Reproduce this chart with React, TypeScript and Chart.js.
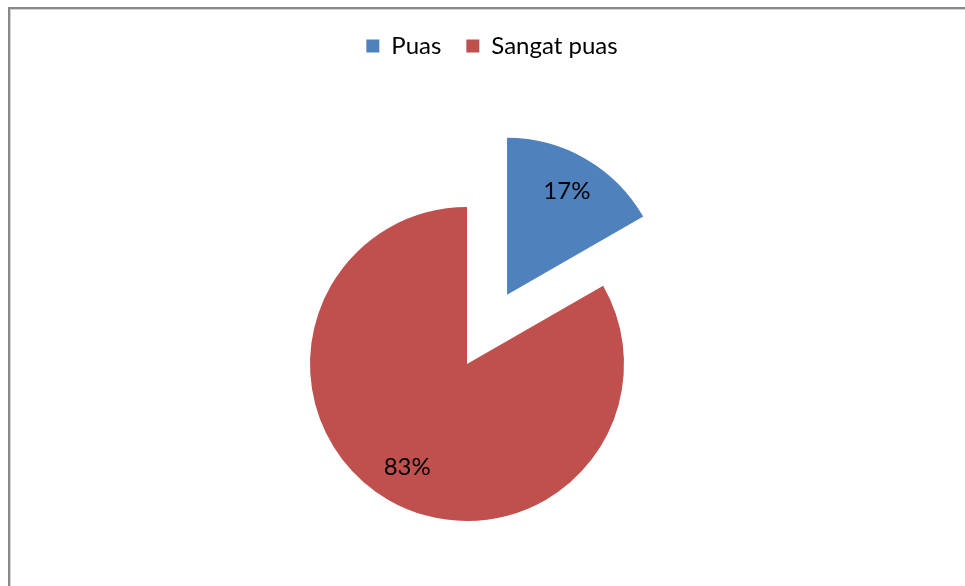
import React, { useEffect, useRef } from 'react';
import { Chart, registerables } from 'chart.js';

Chart.register(...registerables);

// ---- data ----
const categories = ['Puas', 'Sangat puas'];
const values = [16.7, 83.3];
const sliceColors = ['#4F81BD', '#C0504D'];

// ---- styling ----
const FONT_FAMILY = 'Lato, "Open Sans", "Liberation Sans", sans-serif';
const FONT_SIZE = 24;
const EXPLODE_PX = [80, 0];
const LEGEND_SHIFT_X = 25;
const LABEL_RADIUS_RATIO = 0.76;

const explodePlugin = {
  id: 'explodeSlices',
  beforeDatasetsDraw(chart: any) {
    const meta = chart.getDatasetMeta(0);
    meta.data.forEach((el: any, i: number) => {
      const d = EXPLODE_PX[i] || 0;
      if (!d || el.__exploded) return;
      const orig = el.draw;
      el.draw = function (ctx: CanvasRenderingContext2D, area: any) {
        const mid = (this.startAngle + this.endAngle) / 2;
        ctx.save();
        ctx.translate(Math.cos(mid) * d, Math.sin(mid) * d);
        orig.call(this, ctx, area);
        ctx.restore();
      };
      el.__exploded = true;
    });
  },
};

const legendShiftPlugin = {
  id: 'legendShift',
  afterLayout(chart: any) {
    const lg = chart.legend;
    if (lg) {
      lg.left += LEGEND_SHIFT_X;
      lg.right += LEGEND_SHIFT_X;
    }
  },
};

const percentLabelPlugin = {
  id: 'percentLabels',
  afterDatasetsDraw(chart: any) {
    const ctx = chart.ctx as CanvasRenderingContext2D;
    const meta = chart.getDatasetMeta(0);
    const data = chart.data.datasets[0].data as number[];
    const total = data.reduce((a, b) => a + b, 0);
    ctx.save();
    ctx.font = `${FONT_SIZE}px ${FONT_FAMILY}`;
    ctx.fillStyle = '#000000';
    ctx.textAlign = 'center';
    ctx.textBaseline = 'middle';
    meta.data.forEach((el: any, i: number) => {
      const mid = (el.startAngle + el.endAngle) / 2;
      const r = el.outerRadius * LABEL_RADIUS_RATIO + (EXPLODE_PX[i] || 0);
      const x = el.x + Math.cos(mid) * r;
      const y = el.y + Math.sin(mid) * r;
      ctx.fillText(Math.round((data[i] / total) * 100) + '%', x, y);
    });
    ctx.restore();
  },
};

export default function App() {
  const canvasRef = useRef<HTMLCanvasElement | null>(null);

  useEffect(() => {
    if (!canvasRef.current) return;
    const chart = new Chart(canvasRef.current, {
      type: 'pie',
      data: {
        labels: categories,
        datasets: [
          {
            data: values,
            backgroundColor: sliceColors,
            borderWidth: 0,
          },
        ],
      },
      options: {
        responsive: false,
        animation: false,
        radius: 157,
        layout: { padding: { top: 9, right: 31, bottom: 0, left: 0 } },
        plugins: {
          legend: {
            position: 'top',
            labels: {
              color: '#000000',
              font: { family: FONT_FAMILY, size: FONT_SIZE },
              boxWidth: 13,
              boxHeight: 13,
              padding: 25,
            },
          },
          tooltip: { enabled: false },
        },
      } as any,
      plugins: [explodePlugin, legendShiftPlugin, percentLabelPlugin],
    });
    return () => chart.destroy();
  }, []);

  return (
    <div
      style={{
        position: 'fixed',
        left: 0,
        top: 0,
        width: 965,
        height: 586,
        overflow: 'hidden',
        background: '#ffffff',
      }}
    >
      <div
        style={{
          position: 'absolute',
          left: 8,
          top: 7,
          width: 1200,
          height: 900,
          borderTop: '2px solid #888888',
          borderLeft: '2px solid #888888',
          boxShadow: 'inset 1px 1px 0 #d4d4d4',
        }}
      />
      <canvas
        ref={canvasRef}
        width={965}
        height={660}
        style={{ position: 'absolute', left: 0, top: 0, width: 965, height: 660 }}
      />
    </div>
  );
}
